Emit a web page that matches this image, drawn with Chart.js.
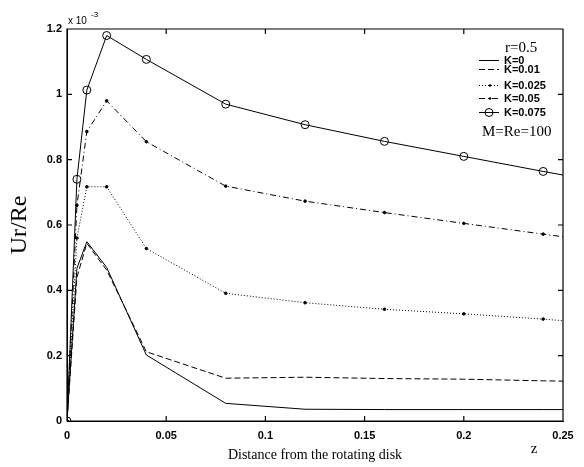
<!DOCTYPE html>
<html>
<head>
<meta charset="utf-8">
<script src="https://cdn.jsdelivr.net/npm/chart.js@4.4.0/dist/chart.umd.min.js"></script>
<style>
  html, body { margin: 0; padding: 0; background: #fff; }
  #wrap { width: 584px; height: 467px; }
</style>
</head>
<body>
<div id="wrap"><canvas id="urChart"></canvas></div>
<script>
// distance from the rotating disk (z)
const zValues = [0, 0.005, 0.01, 0.02, 0.04, 0.08, 0.12, 0.16, 0.2, 0.24, 0.25];
// Ur/Re, read in units of 1e-3
const k0    = [0, 0.467, 0.549, 0.470, 0.202, 0.054, 0.036, 0.035, 0.035, 0.035, 0.035];
const k001  = [0, 0.440, 0.544, 0.462, 0.212, 0.131, 0.134, 0.130, 0.128, 0.123, 0.122];
const k0025 = [0, 0.560, 0.717, 0.717, 0.528, 0.391, 0.362, 0.342, 0.328, 0.312, 0.307];
const k005  = [0, 0.660, 0.886, 0.980, 0.855, 0.719, 0.673, 0.638, 0.605, 0.572, 0.564];
const k0075 = [0, 0.740, 1.013, 1.180, 1.107, 0.970, 0.907, 0.856, 0.810, 0.764, 0.753];
const seriesLabels = ["K=0", "K=0.01", "K=0.025", "K=0.05", "K=0.075"];
const xTicks = [0, 0.05, 0.1, 0.15, 0.2, 0.25];
const yTicks = [0, 0.2, 0.4, 0.6, 0.8, 1, 1.2];

const toPoints = arr => arr.map((v, i) => ({ x: zValues[i], y: v }));
// markers on every point except the last one at z=0.25
const markers = r => zValues.map((z, i) => (i === zValues.length - 1 ? 0 : r));

const datasets = [
  { label: seriesLabels[0], data: toPoints(k0), borderDash: [], pointRadius: 0 },
  { label: seriesLabels[1], data: toPoints(k001), borderDash: [6, 3], pointRadius: 0 },
  { label: seriesLabels[2], data: toPoints(k0025), borderDash: [1, 2], pointRadius: markers(1.3),
    pointBackgroundColor: "#000" },
  { label: seriesLabels[3], data: toPoints(k005), borderDash: [6, 3, 1, 3], pointRadius: markers(1.3),
    pointBackgroundColor: "#000" },
  { label: seriesLabels[4], data: toPoints(k0075), borderDash: [], pointRadius: markers(4),
    pointBackgroundColor: "rgba(0,0,0,0)" },
].map(d => Object.assign({
  showLine: true,
  borderColor: "#000",
  borderWidth: 1,
  pointBorderColor: "#000",
  pointBorderWidth: 1,
  pointHoverRadius: 0,
  tension: 0,
}, d));

const serif = "'Liberation Serif', 'Times New Roman', serif";
const sans = "'Liberation Sans', Arial, sans-serif";

// frame, inward ticks, legend and the extra labels
const decorations = {
  id: "decorations",
  afterDraw(chart) {
    const { ctx, chartArea: a, scales } = chart;
    const tl = 5;
    ctx.save();
    ctx.setLineDash([]);
    ctx.strokeStyle = "#000";
    ctx.lineWidth = 1.2;
    ctx.beginPath();
    ctx.rect(a.left, a.top, a.right - a.left, a.bottom - a.top);
    xTicks.forEach(v => {
      const px = scales.x.getPixelForValue(v);
      ctx.moveTo(px, a.bottom); ctx.lineTo(px, a.bottom - tl);
      ctx.moveTo(px, a.top); ctx.lineTo(px, a.top + tl);
    });
    yTicks.forEach(v => {
      const py = scales.y.getPixelForValue(v);
      ctx.moveTo(a.left, py); ctx.lineTo(a.left + tl, py);
      ctx.moveTo(a.right, py); ctx.lineTo(a.right - tl, py);
    });
    ctx.stroke();

    // exponent above the y axis
    ctx.fillStyle = "#000";
    ctx.textBaseline = "alphabetic";
    ctx.textAlign = "left";
    ctx.font = "10px " + sans;
    ctx.fillText("x 10", 68, 24);
    ctx.font = "8px " + sans;
    ctx.fillText("-3", 91, 17);

    // z next to the x axis end
    ctx.font = "15px " + serif;
    ctx.textAlign = "center";
    ctx.fillText("z", 534, 453);
    ctx.textAlign = "left";

    // legend
    ctx.lineWidth = 1;
    ctx.font = "15px " + serif;
    ctx.fillText("r=0.5", 505, 52);
    const rows = [60, 69, 85, 98, 112];
    chart.data.datasets.forEach((ds, i) => {
      const y = rows[i] + 0.5;
      ctx.setLineDash(ds.borderDash);
      ctx.beginPath();
      ctx.moveTo(479, y); ctx.lineTo(499, y);
      ctx.stroke();
      ctx.setLineDash([]);
      if (i === 2 || i === 3) {
        ctx.beginPath(); ctx.arc(490, y, 1.3, 0, Math.PI * 2); ctx.fill();
      } else if (i === 4) {
        ctx.beginPath(); ctx.arc(489, y, 4, 0, Math.PI * 2); ctx.stroke();
      }
      ctx.font = "bold 11px " + sans;
      ctx.textBaseline = "middle";
      ctx.fillText(ds.label, 504, y);
      ctx.textBaseline = "alphabetic";
    });
    ctx.font = "15px " + serif;
    ctx.fillText("M=Re=100", 482, 136);
    ctx.restore();
  }
};

new Chart(document.getElementById("urChart"), {
  type: "scatter",
  data: { datasets },
  options: {
    responsive: true,
    maintainAspectRatio: false,
    animation: false,
    layout: { padding: { left: 0, right: 21, top: 29, bottom: 2 } },
    plugins: { legend: { display: false }, tooltip: { enabled: false } },
    scales: {
      x: {
        type: "linear",
        min: 0, max: 0.25,
        afterBuildTicks: s => { s.ticks = xTicks.map(v => ({ value: v })); },
        afterFit: s => { s.height = 44; },
        grid: { display: false, drawTicks: false },
        border: { display: true, color: "#000", width: 1 },
        ticks: {
          padding: 8, color: "#000", maxRotation: 0,
          font: { family: sans, size: 11, weight: "bold" },
          callback: v => String(v),
        },
        title: {
          display: true, text: "Distance from the rotating disk", color: "#000",
          padding: { top: 0, bottom: 1 },
          font: { family: serif, size: 14 },
        },
      },
      y: {
        type: "linear",
        min: 0, max: 1.2,
        afterBuildTicks: s => { s.ticks = yTicks.map(v => ({ value: v })); },
        afterFit: s => { s.width = 67; },
        grid: { display: false, drawTicks: false },
        border: { display: true, color: "#000", width: 1 },
        ticks: {
          padding: 5, color: "#000",
          font: { family: sans, size: 11, weight: "bold" },
          callback: v => String(v),
        },
        title: {
          display: true, text: "Ur/Re", color: "#000",
          padding: { top: 5, bottom: 0 },
          font: { family: serif, size: 24 },
        },
      },
    },
  },
  plugins: [decorations],
});
</script>
</body>
</html>
